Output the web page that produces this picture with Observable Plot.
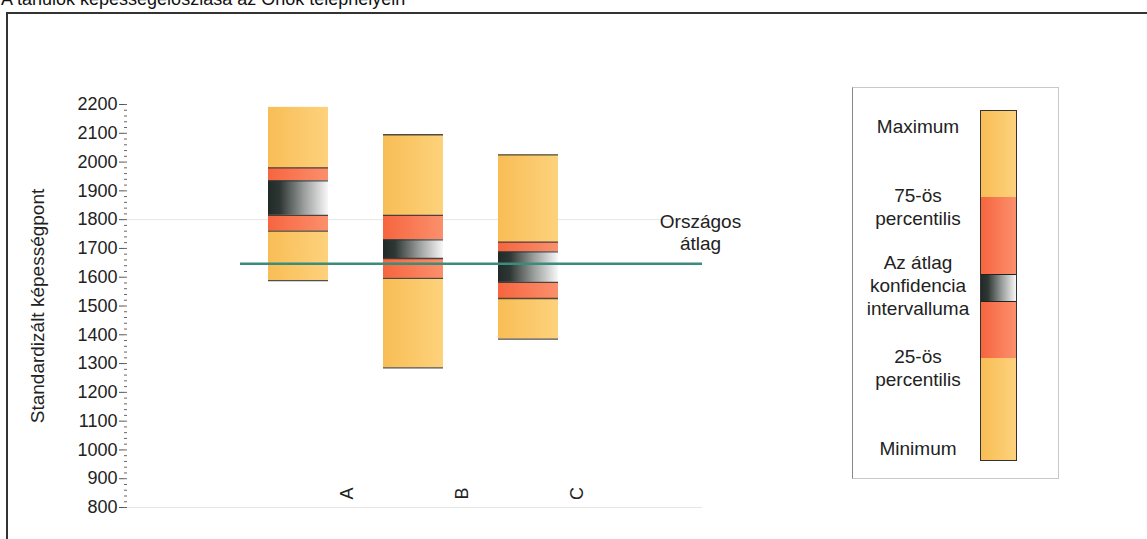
<!DOCTYPE html>
<html>
<head>
<meta charset="utf-8">
<script src="https://cdn.jsdelivr.net/npm/d3@7"></script>
<script src="https://cdn.jsdelivr.net/npm/@observablehq/plot@0.6"></script>
<style>
  html, body { margin: 0; padding: 0; background: #fff; width: 1147px; height: 539px; overflow: hidden; position: relative; font-family: Arial, "Liberation Sans", sans-serif; color: #222; }
  #title { position: absolute; left: 1px; top: -10px; font-size: 18px; line-height: 18px; white-space: nowrap; color: #111; }
  #frame { position: absolute; left: 6px; top: 12px; width: 1160px; height: 560px; border-left: 2px solid #333; border-top: 2px solid #333; }
  #chart { position: absolute; left: 0; top: 0; }
  #legend { position: absolute; left: 852px; top: 87px; width: 205px; height: 390px; border: 1px solid #c8c8c8; border-left: 1px solid #888; }
  .lbl { position: absolute; left: -2px; width: 134px; text-align: center; font-size: 19px; line-height: 23px; color: #222; white-space: nowrap; }
  #lbar { position: absolute; left: 127px; top: 22px; width: 35px; border: 1px solid #333; }
  .seg { width: 100%; }
</style>
</head>
<body>
<div id="title">A tanulók képességeloszlása az Önök telephelyein</div>
<div id="frame"></div>
<div id="chart"></div>
<div id="legend"></div>
<script>
// ---- data ----
const categories = ["A", "B", "C"];
const maxima   = [2190, 2095, 2025];
const p75      = [1980, 1815, 1722];
const ciHigh   = [1935, 1730, 1688];
const ciLow    = [1815, 1665, 1582];
const p25      = [1760, 1596, 1526];
const minima   = [1588, 1285, 1385];
const nationalMean = 1647;
const nationalLabel = "Országos\nátlag";
const yTicks = d3.range(800, 2201, 100);
const yMinorTicks = d3.range(800, 2201, 20);
const gridValues = [800, 1800];
const yLabel = "Standardizált képességpont";
const legendLabels = ["Maximum", "75-ös\npercentilis", "Az átlag\nkonfidencia\nintervalluma", "25-ös\npercentilis", "Minimum"];

// ---- build segments ----
const segments = [];
const boundaries = [];
categories.forEach((c, i) => {
  segments.push({cat: c, kind: "yellow", y1: minima[i], y2: p25[i]});
  segments.push({cat: c, kind: "red", y1: p25[i], y2: ciLow[i]});
  segments.push({cat: c, kind: "ci", y1: ciLow[i], y2: ciHigh[i]});
  segments.push({cat: c, kind: "red", y1: ciHigh[i], y2: p75[i]});
  segments.push({cat: c, kind: "yellow", y1: p75[i], y2: maxima[i]});
  const vals = [minima[i], p25[i], ciLow[i], ciHigh[i], p75[i]];
  if (i > 0) vals.push(maxima[i]);
  vals.forEach(v => boundaries.push({cat: c, v}));
});

const font = 'Arial, "Liberation Sans", sans-serif';

const plot = Plot.plot({
  width: 760,
  height: 539,
  marginTop: 104,
  marginBottom: 32,
  marginLeft: 124,
  marginRight: 58,
  style: {fontFamily: font, fontSize: "18px", color: "#222", background: "transparent"},
  x: {type: "band", domain: categories, range: [268, 558], paddingInner: 0.48, paddingOuter: 0, axis: null},
  y: {domain: [800, 2200]},
  marks: [
    Plot.ruleY(gridValues, {stroke: "#e6e6e6", strokeWidth: 1}),
    Plot.axisY({ticks: yMinorTicks, tickSize: -3, text: null, label: null, stroke: "#666"}),
    Plot.axisY({ticks: yTicks, tickSize: 5, tickPadding: 2, fontSize: 18, tickFormat: d => String(d), label: null, line: true, stroke: "#555"}),
    Plot.axisY({ticks: [], tickSize: 0, text: null, label: yLabel, labelAnchor: "center", labelOffset: 94, labelArrow: "none", fontSize: 19}),
    Plot.barY(segments.filter(d => d.kind === "yellow"), {x: "cat", y1: "y1", y2: "y2", fill: "url(#gYellow)"}),
    Plot.barY(segments.filter(d => d.kind === "red"), {x: "cat", y1: "y1", y2: "y2", fill: "url(#gRed)"}),
    Plot.barY(segments.filter(d => d.kind === "ci"), {x: "cat", y1: "y1", y2: "y2", fill: "url(#gCi)"}),
    Plot.tickY(boundaries, {x: "cat", y: "v", stroke: "#333", strokeWidth: 1.3, strokeOpacity: 0.85}),
    Plot.ruleY([nationalMean], {stroke: "#3a8c7c", strokeWidth: 2.5, insetLeft: 116}),
    Plot.text([nationalLabel], {frameAnchor: "right", y: () => nationalMean, text: d => d, dx: -2, dy: -32, textAnchor: "middle", lineHeight: 1.2, fontSize: 19, fill: "#222"}),
    Plot.text(categories, {x: d => d, text: d => d, frameAnchor: "bottom", dx: 54, dy: -14, rotate: -90, fontSize: 18, fill: "#222"})
  ]
});

d3.select(plot).insert("defs", ":first-child").html(`
  <linearGradient id="gYellow" x1="0" x2="1" y1="0" y2="0">
    <stop offset="0" stop-color="#f8bd55"/><stop offset="1" stop-color="#fdd27c"/>
  </linearGradient>
  <linearGradient id="gRed" x1="0" x2="1" y1="0" y2="0">
    <stop offset="0" stop-color="#f6653f"/><stop offset="1" stop-color="#fb906c"/>
  </linearGradient>
  <linearGradient id="gCi" x1="0" x2="1" y1="0" y2="0">
    <stop offset="0" stop-color="#222a27"/><stop offset="0.2" stop-color="#2f3734"/><stop offset="0.6" stop-color="#9a9e9c"/><stop offset="1" stop-color="#f7f7f7"/>
  </linearGradient>`);
document.getElementById("chart").appendChild(plot);

// ---- legend ----
const legend = document.getElementById("legend");
const bar = document.createElement("div");
bar.id = "lbar";
const segSpec = [
  [86, "linear-gradient(to right,#f8bd55,#fdd27c)", ""],
  [77, "linear-gradient(to right,#f6653f,#fb906c)", ""],
  [28, "linear-gradient(to right,#222a27,#2f3734 20%,#9a9e9c 60%,#f7f7f7)", "ci"],
  [56, "linear-gradient(to right,#f6653f,#fb906c)", ""],
  [102, "linear-gradient(to right,#f8bd55,#fdd27c)", ""]
];
segSpec.forEach(([h, bg, k]) => {
  const s = document.createElement("div");
  s.className = "seg";
  s.style.height = (k ? h - 2 : h) + "px";
  s.style.background = bg;
  if (k) { s.style.borderTop = "1px solid #222"; s.style.borderBottom = "1px solid #222"; }
  bar.appendChild(s);
});
legend.appendChild(bar);
const centers = [38, 119, 197, 279.5, 360];
legendLabels.forEach((t, i) => {
  const lines = t.split("\n");
  const d = document.createElement("div");
  d.className = "lbl";
  d.style.top = (centers[i] - lines.length * 11.5) + "px";
  d.innerHTML = lines.join("<br>");
  legend.appendChild(d);
});
</script>
</body>
</html>
